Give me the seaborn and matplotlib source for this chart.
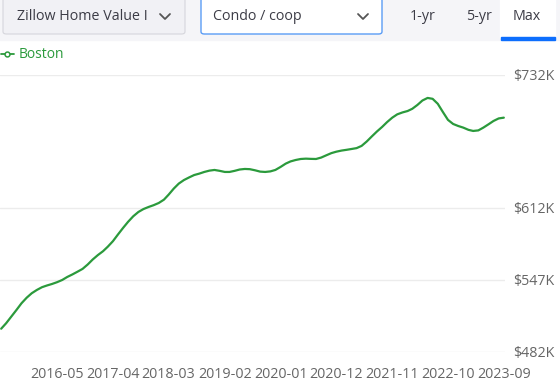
import pandas as pd
import seaborn as sns
import matplotlib.pyplot as plt
from matplotlib.lines import Line2D
from matplotlib.patches import FancyBboxPatch, Rectangle

# Boston condo / coop home values (thousand $), monthly from 2015-06
start_month = "2015-06"
values = [
    503.0, 508.0, 514.0, 520.0, 526.0, 531.0, 535.0,                       # 2015-06..12
    538.0, 540.5, 542.0, 543.4, 545.0, 547.0, 549.7, 552.0, 554.5, 557.0, 561.0, 565.5,  # 2016
    569.5, 573.0, 577.0, 582.0, 588.0, 594.0, 599.5, 604.5, 608.4, 611.0, 612.9, 614.5,  # 2017
    616.5, 619.5, 624.0, 629.5, 634.0, 637.2, 639.5, 641.7, 643.0, 644.5, 645.7, 646.3,  # 2018
    645.5, 644.5, 644.5, 645.5, 646.7, 647.2, 647.0, 646.0, 644.8, 644.5, 645.0, 646.3,  # 2019
    649.0, 652.0, 654.0, 655.3, 656.2, 656.5, 656.3, 656.2, 657.5, 659.5, 661.5, 662.8,  # 2020
    663.8, 664.5, 665.2, 666.0, 668.0, 672.0, 676.5, 681.0, 685.1, 689.5, 693.5, 696.5,  # 2021
    698.2, 699.5, 701.5, 705.0, 709.0, 711.3, 710.5, 706.0, 698.5, 691.5, 687.8, 686.0,  # 2022
    684.5, 682.5, 681.5, 682.0, 684.5, 687.5, 690.5, 692.8, 693.5,                       # 2023-01..09
]
tick_months = ["2016-05", "2017-04", "2018-03", "2019-02", "2020-01",
               "2020-12", "2021-11", "2022-10", "2023-09"]
y_ticks = [482, 547, 612, 732]

dates = pd.date_range(start_month, periods=len(values), freq="MS")
df = pd.DataFrame({"date": dates, "value": values})

sns.set_style("white")
plt.rcParams["font.family"] = ["Open Sans", "DejaVu Sans"]

GREEN = "#2b9a3c"

fig = plt.figure(figsize=(5.6, 3.87), dpi=100)
W, H = 560, 387


def fx(px):
    return px / W


def fy(py):
    return 1 - py / H


# top control bar
fig.add_artist(Rectangle((0, fy(40)), 1, 40 / H, transform=fig.transFigure,
                         color="#f5f5f8", zorder=0))
fig.add_artist(FancyBboxPatch((fx(3), fy(34)), fx(182), 36 / H,
                              boxstyle="round,pad=0,rounding_size=0.006",
                              transform=fig.transFigure, facecolor="#f1f1f5",
                              edgecolor="#d6d6dc", lw=0.8))
fig.add_artist(FancyBboxPatch((fx(201), fy(34)), fx(181), 36 / H,
                              boxstyle="round,pad=0,rounding_size=0.006",
                              transform=fig.transFigure, facecolor="white",
                              edgecolor="#5b9cf5", lw=1.0))
fig.add_artist(Rectangle((fx(500), fy(38)), fx(55), 40 / H,
                         transform=fig.transFigure, color="white"))
fig.add_artist(Rectangle((fx(501), fy(40)), fx(54), 3 / H,
                         transform=fig.transFigure, color="#0d6efd"))
fig.text(fx(17), fy(16), "Zillow Home Value I", fontsize=10.3, color="#3c3c46", va="center")
fig.add_artist(Rectangle((fx(146), fy(30)), fx(8), 26 / H,
                         transform=fig.transFigure, color="#f1f1f5"))
fig.text(fx(213), fy(16), "Condo / coop", fontsize=10.3, color="#3c3c46", va="center")
for cx in (165, 363):
    fig.add_artist(Line2D([fx(cx - 5), fx(cx), fx(cx + 5)], [fy(14), fy(19), fy(14)],
                          transform=fig.transFigure, color="#555", lw=1.3))
for lbl, cx in (("1-yr", 423), ("5-yr", 479), ("Max", 527)):
    fig.text(fx(cx), fy(16), lbl, fontsize=10.3, color="#3c3c46", ha="center", va="center")

ax = fig.add_axes([0, fy(352), fx(505), (352 - 75) / H])
sns.lineplot(data=df, x="date", y="value", color=GREEN, lw=1.6, ax=ax)

ax.set_ylim(482, 732)
ax.set_xlim(pd.Timestamp("2015-05-25"), pd.Timestamp("2023-09-08"))
ax.set_yticks(y_ticks)
ax.set_yticklabels([f"${v}K" for v in y_ticks])
ax.yaxis.tick_right()
ax.set_xticks(pd.to_datetime(tick_months))
ax.set_xticklabels(tick_months)
ax.tick_params(axis="y", length=0, pad=6, labelsize=10.3, labelcolor="#666666")
ax.tick_params(axis="x", length=0, pad=11, labelsize=10.3, labelcolor="#666666")
ax.grid(axis="y", color="#ececec", lw=1)
ax.set_xlabel("")
ax.set_ylabel("")
sns.despine(ax=ax, left=True, right=True, top=True, bottom=True)

handle = Line2D([], [], color=GREEN, lw=1.3, marker="o", markersize=3.5,
                markerfacecolor="white", markeredgewidth=1.1)
leg = fig.legend([handle], ["Boston"], loc="center left",
                 bbox_to_anchor=(fx(-12), fy(55)), frameon=False,
                 handlelength=1.0, handletextpad=0.3, fontsize=10)
for t in leg.get_texts():
    t.set_color(GREEN)

fig.savefig("out.png", dpi=100)
